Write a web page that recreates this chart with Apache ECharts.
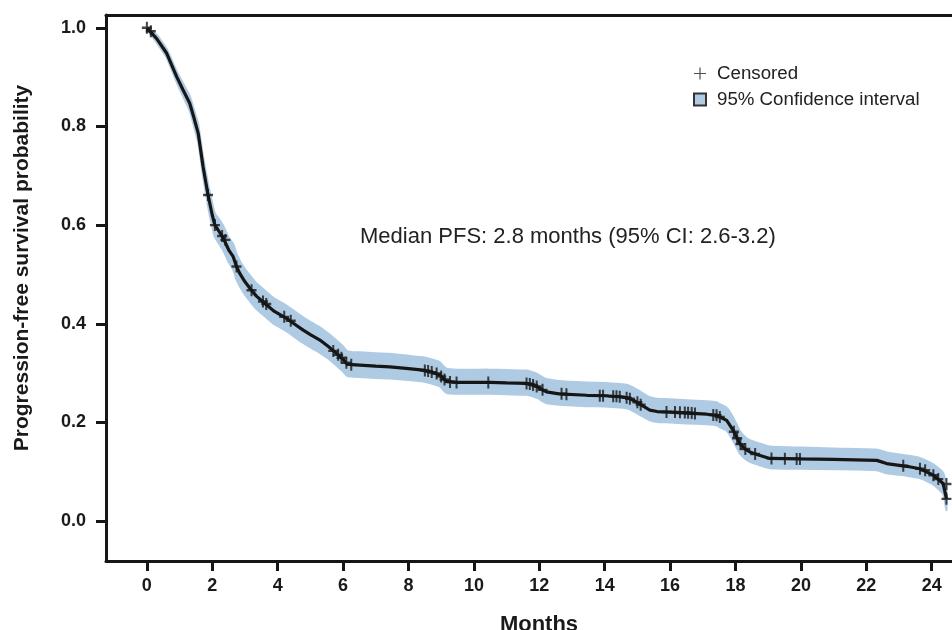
<!DOCTYPE html>
<html>
<head>
<meta charset="utf-8">
<script src="https://cdn.jsdelivr.net/npm/echarts@6/dist/echarts.min.js"></script>
<style>
  html, body { margin: 0; padding: 0; background: #fff; }
  #chart { width: 952px; height: 630px; }
</style>
</head>
<body>
<div id="chart"></div>
<script>
// Kaplan-Meier curve (months, survival probability)
const months = [0, 0.3, 0.6, 0.91, 1.1, 1.31, 1.45, 1.57, 1.72, 1.87, 2.0, 2.08, 2.2, 2.34, 2.5, 2.64, 2.74, 2.84, 3.0, 3.15, 3.35, 3.61, 3.9, 4.27, 4.5, 4.78, 5.0, 5.29, 5.55, 5.8, 6.0, 6.11, 6.25, 6.51, 7.0, 7.43, 8.0, 8.45, 8.7, 8.96, 9.16, 9.5, 10.49, 11.0, 11.61, 11.8, 11.95, 12.12, 12.22, 12.6, 13.45, 14.0, 14.46, 14.7, 14.87, 15.1, 15.38, 15.6, 15.99, 16.5, 17.12, 17.42, 17.52, 17.73, 17.93, 18.13, 18.3, 18.44, 18.7, 19.05, 20.0, 20.99, 22.32, 22.62, 23.23, 23.64, 24.05, 24.35, 24.45];
const survival = [1.0, 0.978, 0.949, 0.901, 0.875, 0.847, 0.815, 0.786, 0.718, 0.661, 0.62, 0.600, 0.588, 0.573, 0.55, 0.536, 0.516, 0.502, 0.485, 0.472, 0.456, 0.441, 0.425, 0.411, 0.400, 0.387, 0.378, 0.367, 0.354, 0.340, 0.328, 0.319, 0.317, 0.316, 0.314, 0.3126, 0.309, 0.306, 0.302, 0.296, 0.283, 0.281, 0.281, 0.280, 0.279, 0.276, 0.272, 0.265, 0.262, 0.258, 0.255, 0.254, 0.252, 0.25, 0.245, 0.236, 0.225, 0.222, 0.221, 0.219, 0.2166, 0.2145, 0.211, 0.204, 0.184, 0.157, 0.146, 0.140, 0.134, 0.127, 0.126, 0.125, 0.123, 0.1165, 0.111, 0.106, 0.093, 0.076, 0.045];
const ciLower = [0.997, 0.97, 0.94, 0.89, 0.862, 0.832, 0.798, 0.768, 0.698, 0.638, 0.596, 0.576, 0.563, 0.548, 0.525, 0.51, 0.49, 0.476, 0.459, 0.446, 0.43, 0.415, 0.399, 0.385, 0.374, 0.361, 0.352, 0.341, 0.329, 0.315, 0.303, 0.295, 0.293, 0.292, 0.29, 0.289, 0.286, 0.283, 0.279, 0.273, 0.26, 0.258, 0.258, 0.257, 0.256, 0.253, 0.249, 0.242, 0.239, 0.236, 0.233, 0.232, 0.23, 0.228, 0.223, 0.214, 0.204, 0.201, 0.2, 0.198, 0.196, 0.194, 0.19, 0.183, 0.163, 0.137, 0.126, 0.12, 0.114, 0.107, 0.106, 0.105, 0.103, 0.097, 0.092, 0.087, 0.074, 0.055, 0.022];
const ciUpper = [1.0, 0.986, 0.958, 0.912, 0.888, 0.862, 0.832, 0.804, 0.738, 0.684, 0.644, 0.624, 0.613, 0.598, 0.575, 0.562, 0.542, 0.528, 0.511, 0.498, 0.482, 0.467, 0.451, 0.437, 0.426, 0.413, 0.404, 0.393, 0.38, 0.366, 0.354, 0.345, 0.343, 0.342, 0.34, 0.339, 0.335, 0.332, 0.328, 0.322, 0.309, 0.307, 0.307, 0.306, 0.305, 0.302, 0.298, 0.291, 0.288, 0.284, 0.281, 0.28, 0.278, 0.276, 0.271, 0.262, 0.251, 0.248, 0.247, 0.245, 0.243, 0.241, 0.237, 0.23, 0.21, 0.183, 0.17, 0.164, 0.158, 0.151, 0.149, 0.147, 0.145, 0.139, 0.133, 0.128, 0.115, 0.098, 0.072];

// censored observations
const censorMonths = [0.0, 0.12, 1.87, 2.08, 2.3, 2.4, 2.74, 3.2, 3.55, 3.65, 4.2, 4.4, 5.7, 5.85, 5.95, 6.1, 6.25, 8.5, 8.6, 8.71, 8.86, 9.0, 9.1, 9.27, 9.47, 10.44, 11.61, 11.71, 11.81, 11.92, 12.1, 12.68, 12.83, 13.85, 13.95, 14.26, 14.36, 14.46, 14.67, 14.77, 15.0, 15.1, 15.89, 16.15, 16.3, 16.45, 16.55, 16.66, 16.76, 17.32, 17.42, 17.52, 17.95, 18.05, 18.15, 18.3, 18.6, 19.1, 19.51, 19.87, 19.97, 23.13, 23.64, 23.8, 24.05, 24.2, 24.45, 24.45];
const censorSurv = [1.0, 0.993, 0.661, 0.600, 0.578, 0.57, 0.516, 0.468, 0.445, 0.44, 0.414, 0.406, 0.345, 0.337, 0.331, 0.321, 0.317, 0.305, 0.304, 0.302, 0.299, 0.293, 0.287, 0.282, 0.281, 0.281, 0.279, 0.278, 0.276, 0.273, 0.266, 0.258, 0.257, 0.254, 0.254, 0.253, 0.253, 0.252, 0.25, 0.248, 0.241, 0.236, 0.221, 0.221, 0.2205, 0.22, 0.2195, 0.219, 0.218, 0.215, 0.2145, 0.211, 0.181, 0.168, 0.156, 0.146, 0.136, 0.127, 0.1265, 0.126, 0.126, 0.112, 0.106, 0.103, 0.093, 0.085, 0.075, 0.045];

const xTicks = [0, 2, 4, 6, 8, 10, 12, 14, 16, 18, 20, 22, 24];
const yTicks = [0, 0.2, 0.4, 0.6, 0.8, 1.0];

const plusMark = 'path://M4,0h2v10h-2z M0,4h10v2h-10z';
const plusThin = 'path://M4.5,0h1v10h-1z M0,4.5h10v1h-10z';
const bandColor = '#afcbe3';
const ink = '#161616';
const font = 'Liberation Sans, Arial, Helvetica, sans-serif';

const chart = echarts.init(document.getElementById('chart'));

function renderBand(params, api) {
  if (params.dataIndex !== 0) return null;
  const pts = [];
  for (let i = 0; i < months.length; i++) pts.push(api.coord([months[i], ciUpper[i]]));
  for (let i = months.length - 1; i >= 0; i--) pts.push(api.coord([months[i], ciLower[i]]));
  return {
    type: 'polygon',
    shape: { points: pts, smooth: 0.15 },
    style: { fill: bandColor, stroke: bandColor, lineWidth: 2 }
  };
}

const option = {
  animation: false,
  textStyle: { fontFamily: font },
  grid: { left: 106, top: 15, right: 0, bottom: 69 },
  legend: {
    left: 688, top: 59,
    orient: 'vertical',
    itemWidth: 12, itemHeight: 12, itemGap: 7,
    textStyle: { fontSize: 18.7, color: '#222', fontFamily: font, padding: [0, 0, 0, 6] },
    data: [
      { name: 'Censored', icon: plusThin, itemStyle: { color: '#222', borderWidth: 0 } },
      { name: '95% Confidence interval', icon: 'rect' }
    ]
  },
  xAxis: [
    {
      type: 'value', min: -1.25, max: 24.62,
      splitLine: { show: false },
      axisLine: { show: true, onZero: false, lineStyle: { color: ink, width: 3 } },
      axisTick: { show: true, customValues: xTicks, length: 10, lineStyle: { color: ink, width: 3 } },
      axisLabel: { customValues: xTicks, margin: 16, fontSize: 18, fontWeight: 'bold', color: '#1a1a1a', fontFamily: font }
    },
    {
      type: 'value', position: 'top', min: -1.25, max: 24.62,
      splitLine: { show: false },
      axisLine: { show: true, onZero: false, lineStyle: { color: ink, width: 3 } },
      axisTick: { show: false }, axisLabel: { show: false }
    }
  ],
  yAxis: {
    type: 'value', min: -0.081, max: 1.026,
    splitLine: { show: false },
    axisLine: { show: true, onZero: false, lineStyle: { color: ink, width: 3 } },
    axisTick: { show: true, customValues: yTicks, length: 10, lineStyle: { color: ink, width: 3 } },
    axisLabel: {
      customValues: yTicks, margin: 20, fontSize: 18, fontWeight: 'bold', color: '#1a1a1a', fontFamily: font,
      formatter: v => v.toFixed(1)
    }
  },
  graphic: [
    {
      type: 'text', x: 22, y: 268, rotation: Math.PI / 2,
      style: {
        text: 'Progression-free survival probability',
        font: 'bold 21px ' + font, fill: '#1a1a1a',
        align: 'center', verticalAlign: 'middle', textAlign: 'center', textVerticalAlign: 'middle'
      }
    },
    {
      type: 'text', x: 539, y: 625,
      style: {
        text: 'Months', font: 'bold 22px ' + font, fill: '#1a1a1a',
        align: 'center', verticalAlign: 'middle', textAlign: 'center', textVerticalAlign: 'middle'
      }
    },
    {
      type: 'text', x: 360, y: 237,
      style: {
        text: 'Median PFS: 2.8 months (95% CI: 2.6-3.2)', font: '22px ' + font, fill: '#222',
        align: 'left', verticalAlign: 'middle', textAlign: 'left', textVerticalAlign: 'middle'
      }
    }
  ],
  series: [
    {
      name: '95% Confidence interval', type: 'custom', z: 1, silent: true,
      renderItem: renderBand,
      itemStyle: { color: bandColor, borderColor: '#333', borderWidth: 1.2 },
      encode: { x: 0, y: 1 },
      data: months.map((m, i) => [m, survival[i]])
    },
    {
      name: 'PFS', type: 'line', symbol: 'none', z: 3,
      lineStyle: { color: ink, width: 3.2 },
      data: months.map((m, i) => [m, survival[i]])
    },
    {
      name: 'Censored', type: 'scatter', symbol: plusMark, symbolSize: [10, 12], z: 4,
      itemStyle: { color: ink },
      data: censorMonths.map((m, i) => [m, censorSurv[i]])
    }
  ]
};

chart.setOption(option);
</script>
</body>
</html>
